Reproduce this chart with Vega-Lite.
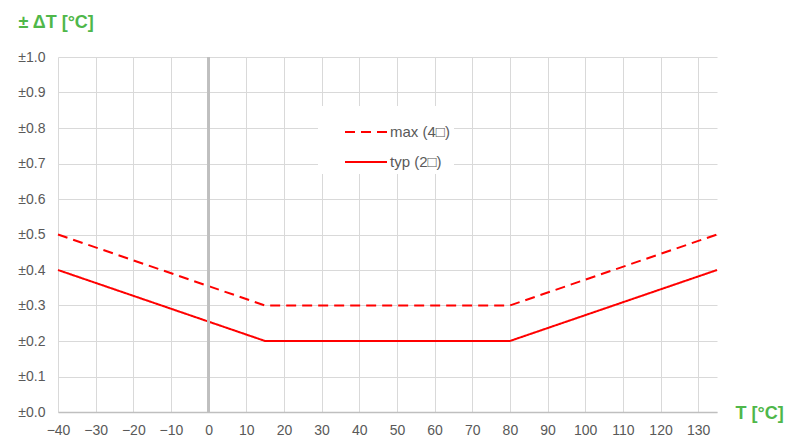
{
  "$schema": "https://vega.github.io/schema/vega-lite/v6.json",
  "width": 659,
  "height": 355,
  "autosize": "none",
  "padding": {"left": 58, "top": 57, "right": 73, "bottom": 27},
  "background": "white",
  "config": {
    "view": {"stroke": null},
    "font": "Liberation Sans",
    "axis": {"labelFont": "Liberation Sans", "titleFont": "Liberation Sans"},
    "legend": {"labelFont": "Liberation Sans"}
  },
  "data": {
    "values": [
      {"T": -40, "dT": 0.5, "series": "max (4□)"},
      {"T": 15, "dT": 0.3, "series": "max (4□)"},
      {"T": 80, "dT": 0.3, "series": "max (4□)"},
      {"T": 135, "dT": 0.5, "series": "max (4□)"},
      {"T": -40, "dT": 0.4, "series": "typ (2□)"},
      {"T": 15, "dT": 0.2, "series": "typ (2□)"},
      {"T": 80, "dT": 0.2, "series": "typ (2□)"},
      {"T": 135, "dT": 0.4, "series": "typ (2□)"}
    ]
  },
  "layer": [
    {
      "mark": {"type": "line", "color": "#ff0000", "strokeWidth": 2},
      "encoding": {
        "x": {
          "field": "T", "type": "quantitative",
          "scale": {"domain": [-40, 135], "nice": false, "zero": false},
          "axis": {
            "values": [-40, -30, -20, -10, 0, 10, 20, 30, 40, 50, 60, 70, 80, 90, 100, 110, 120, 130],
            "title": "T [°C]",
            "titleColor": "#4fb74a", "titleFontSize": 18, "titleFontWeight": "bold",
            "titleAnchor": "start", "titleAlign": "left", "titleBaseline": "middle",
            "titleX": 677, "titleY": 1, "titleAngle": 0,
            "labelColor": "#595959", "labelFontSize": 14, "labelPadding": 11,
            "labelOverlap": false,
            "ticks": false, "domainColor": "#bfbfbf", "domainWidth": 1.5,
            "grid": true, "gridColor": "#d9d9d9", "labelFlush": false
          }
        },
        "y": {
          "field": "dT", "type": "quantitative",
          "scale": {"domain": [0, 1], "nice": false},
          "axis": {
            "values": [0, 0.1, 0.2, 0.3, 0.4, 0.5, 0.6, 0.7, 0.8, 0.9, 1.0],
            "labelExpr": "'±' + format(datum.value, '.1f')",
            "title": "± ΔT [°C]",
            "titleColor": "#4fb74a", "titleFontSize": 18, "titleFontWeight": "bold",
            "titleAngle": 0, "titleAlign": "left", "titleBaseline": "middle",
            "titleX": -40, "titleY": -35,
            "labelColor": "#595959", "labelFontSize": 14, "labelPadding": 13,
            "labelOverlap": false,
            "ticks": false, "domain": false,
            "grid": true, "gridColor": "#d9d9d9"
          }
        },
        "strokeDash": {
          "field": "series", "type": "nominal",
          "scale": {"domain": ["max (4□)", "typ (2□)"], "range": [[10, 6], [1, 0]]},
          "legend": {
            "title": null, "orient": "none", "legendX": 260, "legendY": 49,
            "fillColor": "white", "padding": 4,
            "symbolType": "stroke", "symbolSize": 1764, "symbolStrokeWidth": 2,
            "symbolStrokeColor": "#ff0000", "symbolOffset": 22,
            "labelFontSize": 15, "labelColor": "#595959", "labelOffset": 2,
            "rowPadding": -14
          }
        }
      }
    },
    {
      "mark": {"type": "rule", "color": "#bfbfbf", "strokeWidth": 2},
      "encoding": {
        "x": {
          "datum": 0, "type": "quantitative",
          "axis": {
            "values": [-40, -30, -20, -10, 0, 10, 20, 30, 40, 50, 60, 70, 80, 90, 100, 110, 120, 130],
            "title": "T [°C]",
            "titleColor": "#4fb74a", "titleFontSize": 18, "titleFontWeight": "bold",
            "titleAnchor": "start", "titleAlign": "left", "titleBaseline": "middle",
            "titleX": 677, "titleY": 1, "titleAngle": 0,
            "labelColor": "#595959", "labelFontSize": 14, "labelPadding": 11,
            "labelOverlap": false,
            "ticks": false, "domainColor": "#bfbfbf", "domainWidth": 1.5,
            "grid": true, "gridColor": "#d9d9d9", "labelFlush": false
          }
        }
      }
    }
  ]
}
